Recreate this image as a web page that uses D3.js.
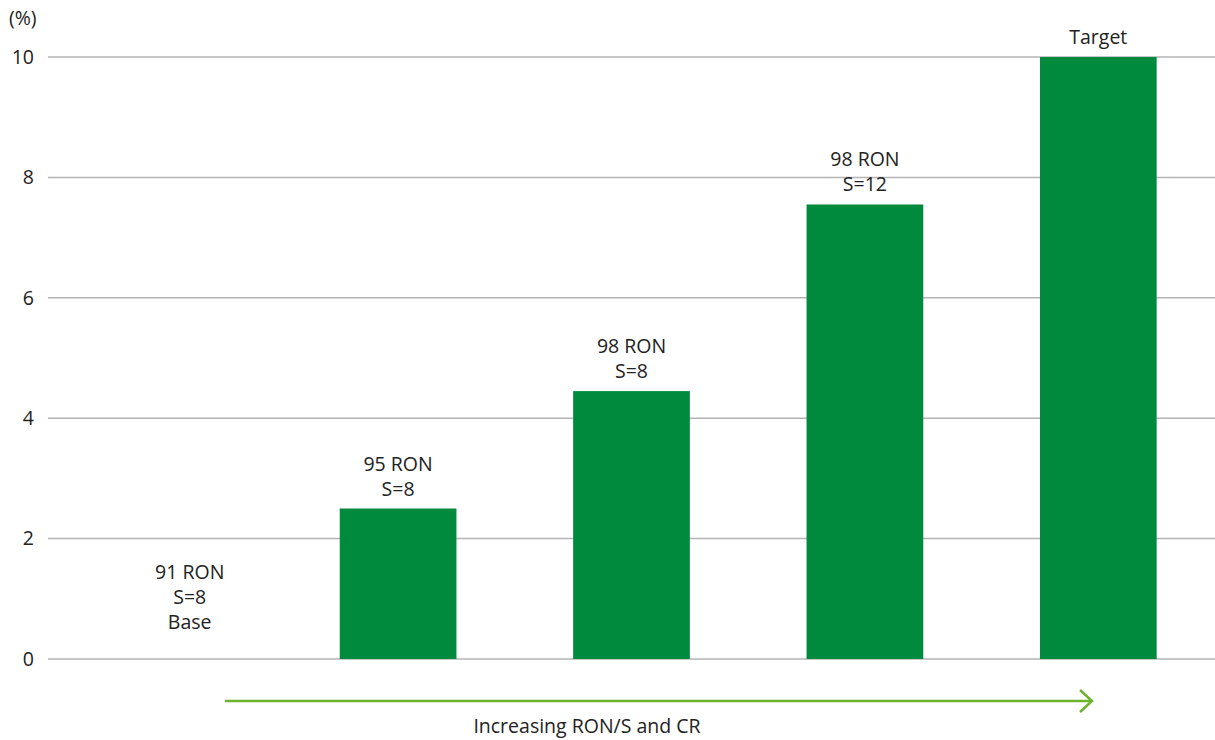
<!DOCTYPE html>
<html>
<head>
<meta charset="utf-8">
<script src="https://cdn.jsdelivr.net/npm/d3@7"></script>
<style>
  html, body { margin: 0; padding: 0; background: #fff; }
  svg { display: block; font-family: "Open Sans", "Noto Sans", sans-serif; }
</style>
</head>
<body>
<svg id="chart" width="1215" height="740"></svg>
<script>
// Octane gain by fuel grade
const categories = ["base", "95s8", "98s8", "98s12", "target"];
const values = [0, 2.5, 4.45, 7.55, 10];
const barLabels = [
  ["91 RON", "S=8", "Base"],
  ["95 RON", "S=8"],
  ["98 RON", "S=8"],
  ["98 RON", "S=12"],
  ["Target"]
];
const yTicks = [0, 2, 4, 6, 8, 10];
const unitLabel = "(%)";
const arrowLabel = "Increasing RON/S and CR";

const svg = d3.select("#chart");
const plot = { left: 48, right: 1215, top: 57, bottom: 659 };
const fs = 19.5;
const ink = "#222";

const x = d3.scaleBand().domain(categories).range([plot.left, plot.right]).paddingInner(0.5).paddingOuter(0.25);
const y = d3.scaleLinear().domain([0, 10]).range([plot.bottom, plot.top]);

// grid lines
svg.append("g").selectAll("line").data(yTicks).join("line")
  .attr("x1", plot.left).attr("x2", plot.right)
  .attr("y1", d => y(d)).attr("y2", d => y(d))
  .attr("stroke", "#b4b4b4").attr("stroke-width", 1.5);

// y tick labels
svg.append("g").selectAll("text").data(yTicks).join("text")
  .attr("x", 34).attr("y", d => y(d)).attr("dy", "0.35em")
  .attr("text-anchor", "end").attr("font-size", fs).attr("fill", ink)
  .text(d => d);

svg.append("text").attr("x", 9).attr("y", 25)
  .attr("font-size", fs).attr("fill", ink).text(unitLabel);

// bars
svg.append("g").selectAll("rect").data(values).join("rect")
  .attr("x", (d, i) => x(categories[i]))
  .attr("width", x.bandwidth())
  .attr("y", d => y(d))
  .attr("height", d => y(0) - y(d))
  .attr("fill", "#008a3e");

// bar labels
const lineH = 25;
barLabels.forEach((lines, i) => {
  const cx = x(categories[i]) + x.bandwidth() / 2 + (i === 0 ? 25 : 0);
  let baseY;
  if (i === 0) baseY = y(0) - 30 - (lines.length - 1) * lineH;
  else baseY = y(values[i]) - 13 - (lines.length - 1) * lineH;
  const t = svg.append("text").attr("text-anchor", "middle")
    .attr("font-size", fs).attr("fill", ink);
  lines.forEach((s, k) => {
    t.append("tspan").attr("x", cx).attr("y", baseY + k * lineH).text(s);
  });
});

// progression arrow
const ax0 = 225, ax1 = 1092, ay = 701;
svg.append("line").attr("x1", ax0).attr("x2", ax1 - 1).attr("y1", ay).attr("y2", ay)
  .attr("stroke", "#6cb42e").attr("stroke-width", 2.5);
svg.append("path")
  .attr("d", `M${ax1 - 12},${ay - 11} L${ax1},${ay} L${ax1 - 12},${ay + 11}`)
  .attr("fill", "none").attr("stroke", "#6cb42e").attr("stroke-width", 2.5);

svg.append("text").attr("x", 587).attr("y", 733)
  .attr("text-anchor", "middle").attr("font-size", fs).attr("fill", ink)
  .text(arrowLabel);
</script>
</body>
</html>
